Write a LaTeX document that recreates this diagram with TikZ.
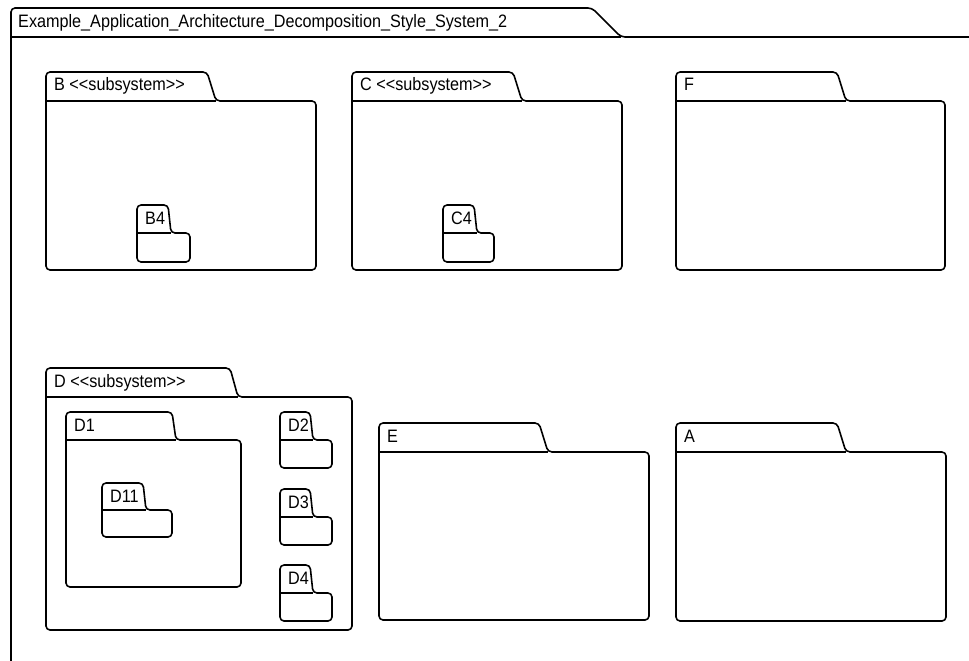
\documentclass[tikz,border=0pt]{standalone}
\usepackage{fontspec}
\setmainfont{Liberation Sans}[FakeStretch=0.9]
\usetikzlibrary{positioning}

\tikzset{
  pkgline/.style={draw=black, line width=1.6pt, rounded corners=4pt, line join=round},
  pkglabel/.style={font=\fontsize{18}{20}\selectfont, inner sep=0pt, anchor=base west},
}

% package folder: #1 name, #2 label, #3 left, #4 tab top, #5 body top,
% #6 tab right, #7 slant of the tab, #8 right, #9 bottom
\newcommand{\umlpackage}[9]{%
  \draw[pkgline] (#3,#5) -- (#3,#4) -- (#6-#7,#4) -- (#6,#5) -- (#8,#5) -- (#8,#9) -- (#3,#9) -- cycle;
  \draw[pkgline] (#3,#5) -- (#6,#5);
  \node[pkglabel] (#1) at (#3+8,#4+19) {#2};
}

\begin{document}
\begin{tikzpicture}[x=1pt, y=-1pt]

\useasboundingbox (0,0) rectangle (969,661);
\clip (0,0) rectangle (969,661);

% System frame (runs off the page right and below)
\draw[pkgline] (990,37) -- (621,37) -- (592,8) -- (11,8) -- (11,690);
\draw[pkgline] (11,37) -- (621,37);
\node[pkglabel] (system) at (18,28) {Example\_Application\_Architecture\_Decomposition\_Style\_System\_2};

% Top row
\umlpackage{B}{B <{}<subsystem>{}>}{46}{72}{101}{216}{9}{316}{270}
\umlpackage{B4}{B4}{137}{205}{233}{171}{3}{190}{262}

\umlpackage{C}{C <{}<subsystem>{}>}{352}{72}{101}{522}{9}{622}{270}
\umlpackage{C4}{C4}{443}{205}{233}{477}{3}{494}{262}

\umlpackage{F}{F}{676}{72}{101}{846}{9}{945}{270}

% Bottom row
\umlpackage{D}{D <{}<subsystem>{}>}{46}{368}{397}{238}{8}{352}{630}
\umlpackage{D1}{D1}{66}{412}{440}{176}{4}{241}{587}
\umlpackage{D11}{D11}{102}{483}{510}{146}{3}{172}{537}
\umlpackage{D2}{D2}{280}{412}{440}{313}{3}{332}{468}
\umlpackage{D3}{D3}{280}{489}{517}{313}{3}{332}{545}
\umlpackage{D4}{D4}{280}{565}{593}{313}{3}{332}{621}

\umlpackage{E}{E}{379}{423}{452}{548}{9}{649}{620}
\umlpackage{A}{A}{676}{423}{452}{846}{9}{946}{621}

\end{tikzpicture}
\end{document}
